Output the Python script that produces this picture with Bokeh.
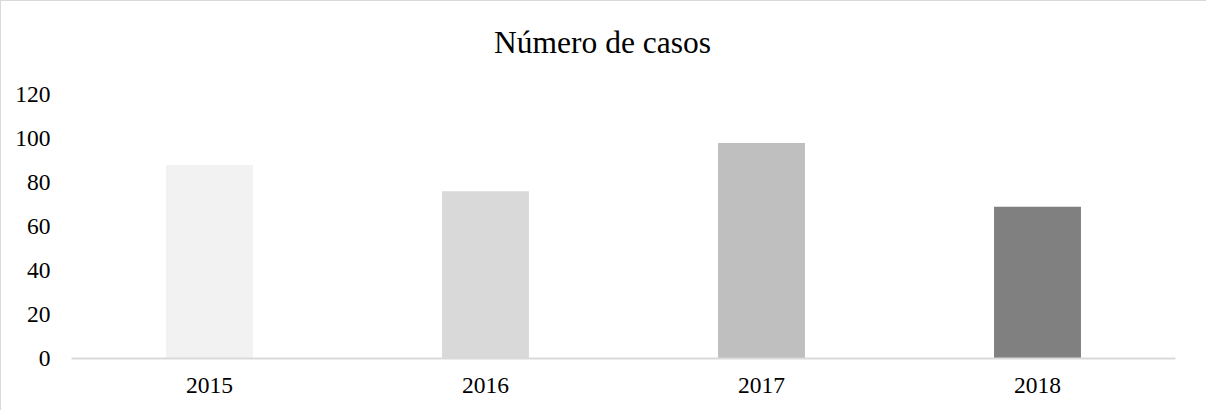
from bokeh.plotting import figure
from bokeh.models import ColumnDataSource, FactorRange, Range1d, FixedTicker, Label
from bokeh.embed import file_html
from bokeh.resources import INLINE

years = ["2015", "2016", "2017", "2018"]
cases = [88, 76, 98, 69]
bar_colors = ["#f2f2f2", "#d9d9d9", "#bfbfbf", "#808080"]
y_ticks = [0, 20, 40, 60, 80, 100, 120]
title_text = "Número de casos"

FONT = "Liberation Serif"
W, H = 1206, 410
TOP, BOTTOM = 8, 53
AXIS_H = 264                      # pixels spanned by 0..120
FRAME_H = H - TOP - BOTTOM        # frame extends up under the title area
y_max = y_ticks[-1] * FRAME_H / AXIS_H

src = ColumnDataSource(dict(year=years, cases=cases, color=bar_colors))

p = figure(
    x_range=FactorRange(factors=years, range_padding=0),
    y_range=Range1d(0, y_max),
    width=W, height=H,
    output_backend="svg", toolbar_location=None,
    min_border_left=70, min_border_right=32,
    min_border_top=TOP, min_border_bottom=BOTTOM,
)
p.styles = {"border-left": "1px solid #d9d9d9", "border-top": "1px solid #d9d9d9"}

title = Label(
    x=531, y=316, x_units="screen", y_units="screen",
    text=title_text, text_font=FONT, text_font_size="31.5px",
    text_color="#000000", text_align="center", text_baseline="alphabetic",
)
p.add_layout(title)

p.vbar(x="year", top="cases", width=0.315, source=src, fill_color="color", line_color=None)

p.outline_line_color = None
p.xgrid.grid_line_color = None
p.ygrid.grid_line_color = None

p.xaxis.axis_line_color = "#d9d9d9"
p.xaxis.axis_line_width = 2
p.xaxis.major_tick_line_color = None
p.xaxis.minor_tick_line_color = None
p.xaxis.major_tick_out = 0
p.xaxis.major_label_standoff = 19
p.xaxis.major_label_text_font = FONT
p.xaxis.major_label_text_font_size = "23.5px"
p.xaxis.major_label_text_color = "#000000"

p.yaxis.ticker = FixedTicker(ticks=y_ticks)
p.yaxis.axis_line_color = None
p.yaxis.major_tick_line_color = None
p.yaxis.minor_tick_line_color = None
p.yaxis.major_tick_out = 0
p.yaxis.major_label_standoff = 21
p.yaxis.major_label_text_font = FONT
p.yaxis.major_label_text_font_size = "23.5px"
p.yaxis.major_label_text_color = "#000000"

open("out.html", "w").write(file_html(p, INLINE))
